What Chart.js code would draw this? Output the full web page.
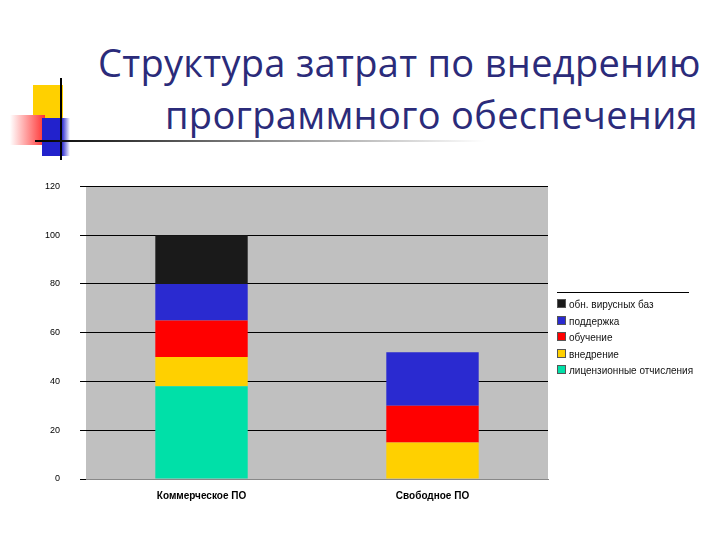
<!DOCTYPE html>
<html><head><meta charset="utf-8">
<script src="https://cdn.jsdelivr.net/npm/chart.js@4/dist/chart.umd.min.js"></script>
<style>
body{margin:0;width:720px;height:540px;background:#fff;position:relative;overflow:hidden;font-family:"Liberation Sans",Arial,sans-serif}
#t{position:absolute;left:98px;top:36px;width:620px;font-family:"Open Sans","DejaVu Sans",sans-serif;font-size:38px;line-height:52px;color:#2b2b7a;letter-spacing:0.3px}
#t div:nth-child(2){padding-left:67px}
.sq{position:absolute}
#cw{position:absolute;left:25px;top:161px;width:535px;height:344px}
#lg{position:absolute;left:557px;top:292px;width:132px;border-top:1px solid #000;padding-top:4px;font-size:10px;color:#111}
#lg div{height:16.5px;line-height:16.5px;white-space:nowrap}
#lg span{display:inline-block;width:7px;height:7px;margin-right:3px;border:1px solid #555}
</style></head><body>
<div class="sq" style="left:33px;top:85px;width:30px;height:48px;background:#ffd000"></div>
<div class="sq" style="left:10px;top:115px;width:35px;height:30px;background:linear-gradient(90deg,#fff,#ff3030)"></div>
<div class="sq" style="left:42px;top:118px;width:28px;height:38px;background:linear-gradient(90deg,#2222cc,#2222cc 70%,#fff)"></div>
<div class="sq" style="left:60px;top:78px;width:2px;height:82px;background:#000"></div>
<div class="sq" style="left:35px;top:140px;width:450px;height:2px;background:linear-gradient(90deg,#000,#888 50%,#fff)"></div>
<div id="t"><div>Структура затрат по внедрению</div><div>программного обеспечения</div></div>
<div id="cw"><canvas id="c"></canvas></div>
<div id="lg"></div>
<script>
const categories=["Коммерческое ПО","Свободное ПО"];
const seriesNames=["лицензионные отчисления","внедрение","обучение","поддержка","обн. вирусных баз"];
const colors=["#00e0a8","#ffd000","#ff0000","#2a2ad0","#1a1a1a"];
const license=[38,0];
const implementation=[12,15];
const training=[15,15];
const support=[15,22];
const updates=[20,0];
const yTicks=[0,20,40,60,80,100,120];
const vals=[license,implementation,training,support,updates];
const bg={id:'bg',beforeDraw(c){const a=c.chartArea,x=c.ctx;x.save();x.fillStyle='#c0c0c0';x.fillRect(a.left,a.top,a.right-a.left,a.bottom-a.top);x.restore();}};
new Chart(document.getElementById('c'),{type:'bar',
data:{labels:categories,datasets:seriesNames.map((n,i)=>({label:n,data:vals[i],backgroundColor:colors[i],barPercentage:0.4,categoryPercentage:1}))},
options:{responsive:true,maintainAspectRatio:false,animation:false,
layout:{padding:{left:0,right:12,top:5}},
plugins:{legend:{display:false},tooltip:{enabled:false}},
scales:{x:{stacked:true,grid:{display:false},border:{color:'#888'},ticks:{color:'#000',font:{size:10,weight:'bold'}}},
y:{stacked:true,min:0,max:120,afterBuildTicks(s){s.ticks=yTicks.map(v=>({value:v}));},
grid:{color:'#000',drawTicks:true,tickLength:6},border:{display:false},ticks:{color:'#000',font:{size:9},padding:20}}}},
plugins:[bg]});
const lg=document.getElementById('lg');
for(let i=seriesNames.length-1;i>=0;i--){lg.innerHTML+=`<div><span style="background:${colors[i]}"></span>${seriesNames[i]}</div>`;}
</script></body></html>
